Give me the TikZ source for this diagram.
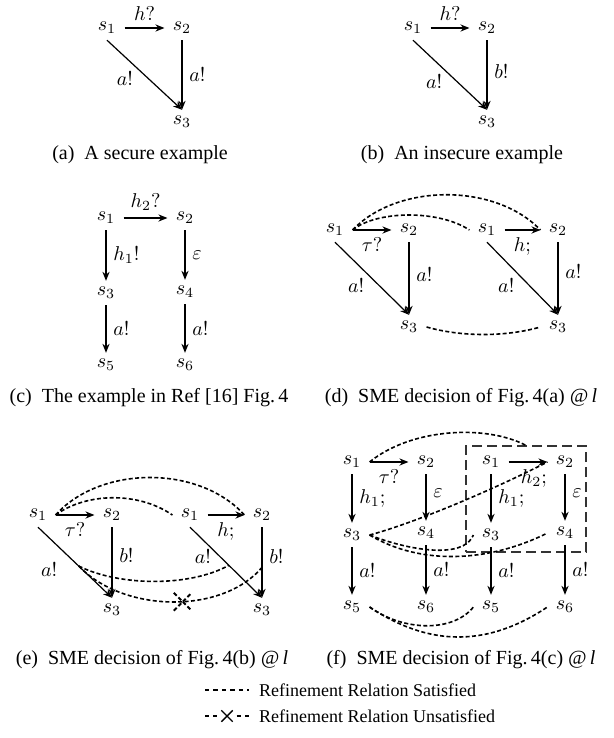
\documentclass[tikz,border=0pt]{standalone}
\usepackage{fontspec}
\setmainfont{Liberation Serif}
\usepackage{amsmath,amssymb}
\usetikzlibrary{arrows.meta,positioning,shapes.misc}

\begin{document}
\begin{tikzpicture}[
  x=0.5pt, y=-0.5pt,
  state/.style={inner xsep=4pt, inner ysep=3pt},
  arrow/.style={-{Stealth[length=4.5pt,width=3.6pt]}, line width=0.6pt},
  rel/.style={line width=0.8pt, dash pattern=on 2pt off 1.2pt},
  legline/.style={line width=0.7pt, dash pattern=on 2.2pt off 2pt},
  frame/.style={draw=black!80, line width=0.6pt, dash pattern=on 5pt off 2.5pt, minimum width=60pt, minimum height=53pt},
  caption/.style={font=\normalsize},
  legend/.style={anchor=west, font=\small},
  cross/.style={cross out, draw, line width=0.9pt, minimum size=8pt, inner sep=0pt}
]
  \useasboundingbox (0,0) rectangle (614,738);

  % (a) secure
  \node[state] (a1) at (107,28) {$s_1$};
  \node[state] (a2) at (182,28) {$s_2$};
  \node[state] (a3) at (182,122) {$s_3$};
  \draw[arrow] (a1) -- node[above] {$h?$} (a2);
  \draw[arrow] (a1.south) -- node[left=4pt, pos=0.55] {$a!$} (a3.north);
  \draw[arrow] (a2) -- node[right] {$a!$} (a3);
  \node[caption] (capa) at (140,155) {(a)\enspace A secure example};

  % (b) insecure
  \node[state] (b1) at (413,28) {$s_1$};
  \node[state] (b2) at (487,28) {$s_2$};
  \node[state] (b3) at (487,122) {$s_3$};
  \draw[arrow] (b1) -- node[above] {$h?$} (b2);
  \draw[arrow] (b1.south) -- node[left=4pt, pos=0.6] {$a!$} (b3.north);
  \draw[arrow] (b2) -- node[right, pos=0.45] {$b!$} (b3);
  \node[caption] (capb) at (462,155) {(b)\enspace An insecure example};

  % (c) Ref [16]
  \node[state] (c1) at (106,218) {$s_1$};
  \node[state] (c2) at (185,218) {$s_2$};
  \node[state] (c3) at (106,293) {$s_3$};
  \node[state] (c4) at (185,292) {$s_4$};
  \node[state] (c5) at (106,365) {$s_5$};
  \node[state] (c6) at (185,365) {$s_6$};
  \draw[arrow] (c1) -- node[above] {$h_2?$} (c2);
  \draw[arrow] (c1) -- node[right] {$h_1!$} (c3);
  \draw[arrow] (c2) -- node[right] {$\varepsilon$} (c4);
  \draw[arrow] (c3) -- node[right] {$a!$} (c5);
  \draw[arrow] (c4) -- node[right] {$a!$} (c6);
  \node[caption] (capc) at (149,398) {(c)\enspace The example in Ref [16] Fig.\,4};

  % (d) decision of 4(a)
  \node[state] (dl1) at (335,230) {$s_1$};
  \node[state] (dl2) at (409,230) {$s_2$};
  \node[state] (dl3) at (409,327) {$s_3$};
  \node[state] (dr1) at (487,230) {$s_1$};
  \node[state] (dr2) at (558,230) {$s_2$};
  \node[state] (dr3) at (558,327) {$s_3$};
  \draw[arrow] (dl1) -- node[below] {$\tau?$} (dl2);
  \draw[arrow] (dl1.south) -- node[left=4pt, pos=0.6] {$a!$} (dl3.north);
  \draw[arrow] (dl2) -- node[right, pos=0.45] {$a!$} (dl3);
  \draw[arrow] (dr1) -- node[below] {$h;$} (dr2);
  \draw[arrow] (dr1.south) -- node[left=4pt, pos=0.6] {$a!$} (dr3.north);
  \draw[arrow] (dr2) -- node[right, pos=0.4] {$a!$} (dr3);
  \draw[rel] (dl1.east) .. controls +(45,-47) and +(-45,-47) .. (dr2.west);
  \draw[rel] (dl1.east) .. controls +(25,-20) and +(-30,-20) .. (dr1.west);
  \draw[rel] (dl3.east) .. controls +(35,10) and +(-35,10) .. (dr3.west);
  \node[caption] (capd) at (461,398) {(d)\enspace SME decision of Fig.\,4(a) \textit{@\,l}};

  % (e) decision of 4(b)
  \node[state] (el1) at (38,515) {$s_1$};
  \node[state] (el2) at (112,515) {$s_2$};
  \node[state] (el3) at (112,610) {$s_3$};
  \node[state] (er1) at (190,515) {$s_1$};
  \node[state] (er2) at (262,515) {$s_2$};
  \node[state] (er3) at (262,610) {$s_3$};
  \draw[arrow] (el1) -- node[below] {$\tau?$} (el2);
  \draw[arrow] (el1.south) -- coordinate[pos=0.55] (ea) node[left=9pt, pos=0.6] {$a!$} (el3.north);
  \draw[arrow] (el2) -- node[right, pos=0.4] {$b!$} (el3);
  \draw[arrow] (er1) -- node[below] {$h;$} (er2);
  \draw[arrow] (er1.south) -- coordinate[pos=0.54] (eb) node[left=1pt, pos=0.42] {$a!$} (er3.north);
  \draw[arrow] (er2) -- coordinate[pos=0.57] (ec) node[right, pos=0.42] {$b!$} (er3);
  \draw[rel] (el1.east) .. controls +(45,-50) and +(-45,-50) .. (er2.west);
  \draw[rel] (el1.east) .. controls +(30,-22) and +(-35,-24) .. (er1.west);
  \draw[rel] (ea) .. controls +(40,20) and +(-40,22) .. (eb);
  \draw[rel] (ea) .. controls +(45,47) and +(-40,47) .. node[cross, pos=0.55] (ex) {} (ec);
  \node[caption] (cape) at (152,660) {(e)\enspace SME decision of Fig.\,4(b) \textit{@\,l}};

  % (f) decision of 4(c)
  \node[state] (fl1) at (352,462) {$s_1$};
  \node[state] (fl2) at (426,462) {$s_2$};
  \node[state] (fl3) at (352,535) {$s_3$};
  \node[state] (fl4) at (426,533) {$s_4$};
  \node[state] (fl5) at (352,607) {$s_5$};
  \node[state] (fl6) at (426,607) {$s_6$};
  \node[state] (fr1) at (491,462) {$s_1$};
  \node[state] (fr2) at (565,462) {$s_2$};
  \node[state] (fr3) at (491,535) {$s_3$};
  \node[state] (fr4) at (565,533) {$s_4$};
  \node[state] (fr5) at (491,607) {$s_5$};
  \node[state] (fr6) at (565,607) {$s_6$};
  \node[frame] (box) at (526,499) {};
  \draw[arrow] (fl1) -- node[below] {$\tau?$} (fl2);
  \draw[arrow] (fl1) -- node[right] {$h_1;$} (fl3);
  \draw[arrow] (fl2) -- node[right, pos=0.4] {$\varepsilon$} (fl4);
  \draw[arrow] (fl3) -- node[right] {$a!$} (fl5);
  \draw[arrow] (fl4) -- node[right] {$a!$} (fl6);
  \draw[arrow] (fr1) -- node[below, pos=0.65] {$h_2;$} (fr2);
  \draw[arrow] (fr1) -- node[right] {$h_1;$} (fr3);
  \draw[arrow] (fr2) -- node[right, pos=0.4] {$\varepsilon$} (fr4);
  \draw[arrow] (fr3) -- node[right] {$a!$} (fr5);
  \draw[arrow] (fr4) -- node[right] {$a!$} (fr6);
  \draw[rel] (fl1.east) .. controls +(42,-34) and +(-40,-21) .. (box.north);
  \draw[rel] (fl3.east) .. controls +(45,-12) and +(-55,28) .. (fr2.west);
  \draw[rel] (fl3.east) .. controls +(38,15) and +(-10,25) .. (fr3.west);
  \draw[rel] (fl3.east) .. controls +(50,30) and +(-60,30) .. (fr4.west);
  \draw[rel] (fl5.east) .. controls +(35,25) and +(-20,25) .. (fr5.west);
  \draw[rel] (fl5.east) .. controls +(60,40) and +(-60,40) .. (fr6.west);
  \node[caption] (capf) at (461,660) {(f)\enspace SME decision of Fig.\,4(c) \textit{@\,l}};

  % legend
  \coordinate (k1a) at (205,690);
  \coordinate (k1b) at (249,690);
  \draw[legline] (k1a) -- (k1b);
  \node[legend] (t1) at (252,690) {Refinement Relation Satisfied};
  \coordinate (k2a) at (205,716);
  \coordinate (k2b) at (249,716);
  \node[cross, minimum size=5pt, line width=0.7pt] (kx) at (227,716) {};
  \draw[legline] (k2a) -- ([xshift=-2pt]kx.west);
  \draw[legline] ([xshift=2pt]kx.east) -- (k2b);
  \node[legend] (t2) at (252,716) {Refinement Relation Unsatisfied};
\end{tikzpicture}
\end{document}
